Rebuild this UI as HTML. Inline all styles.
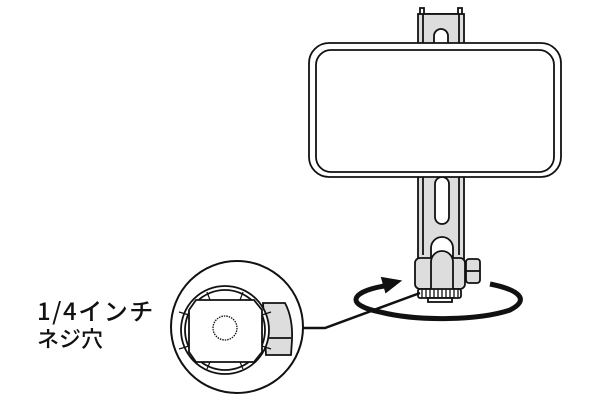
<!DOCTYPE html>
<html><head><meta charset="utf-8"><style>
body{margin:0;background:#fff;width:600px;height:400px;overflow:hidden}
svg{position:absolute;left:0;top:0}
.t{font-family:"Noto Sans CJK JP","Liberation Sans",sans-serif;font-size:22px;font-weight:500;fill:#111}
</style></head><body>
<svg width="600" height="400" viewBox="0 0 600 400">
<g stroke="#111" stroke-width="1.8" fill="none">
<path d="M420 20 V8 h4 v6 h34 v-6 h4 v12" />
<rect x="418" y="14" width="46" height="252" fill="#ddd"/>
<line x1="423" y1="14" x2="423" y2="255"/><line x1="459" y1="14" x2="459" y2="255"/>
<path d="M434 45 V36 a7 7 0 0 1 14 0 V45" fill="#fff"/>
<rect x="435" y="177" width="14" height="47" rx="7" fill="#fff"/>
<path d="M431 262 V248 a11 11 0 0 1 22 0 V262" fill="#fff"/>
<rect x="309" y="43" width="252" height="134" rx="20" fill="#fff"/>
<rect x="316" y="50" width="238" height="122" rx="15"/>
<rect x="466" y="259" width="14" height="24" rx="3" fill="#ddd"/>
<line x1="466" y1="271" x2="480" y2="271"/>
<rect x="415" y="258" width="50" height="31" rx="5" fill="#ddd"/>
<path d="M431 289 V262 a11 11 0 0 1 22 0 V289" fill="#ddd"/>
<rect x="418" y="289" width="43" height="9" rx="2" fill="#fff"/>
<path d="M422 289v9M426 289v9M430 289v9M434 289v9M438 289v9M442 289v9M446 289v9M450 289v9M454 289v9M458 289v9" stroke-width="1.3"/>
<rect x="428" y="298" width="24" height="4" fill="#fff"/>
<path d="M384 286 C350 292 345 305 380 312 C420 322 480 320 510 310 C530 300 520 290 490 284" stroke-width="5"/>
<path d="M400 281 L382 278 L386 292 Z" fill="#111"/>
<polyline points="303,328 325,328 420,293" stroke-width="2.5"/>
<circle cx="237" cy="327" r="66" fill="#fff" stroke-width="2"/>
<path d="M263 303 L285 303 Q293 318 292 340 L291 355 L266 355 Z" fill="#ddd"/>
<line x1="268" y1="338" x2="291" y2="338"/>
<circle cx="225" cy="330" r="44" fill="#fff"/>
<circle cx="225" cy="330" r="40"/>
<path d="M196 300 H254 L262 310 V352 L254 362 H196 L189 352 V310 Z" fill="#fff"/>
<path d="M189 315 l-10 -3 M189 346 l-10 3 M262 315 l9 -3 M262 346 l9 3 M210 300 l-3 -8 M240 300 l3 -8 M210 362 l-3 7 M240 362 l3 7" stroke-width="1.2"/>
<circle cx="225" cy="328" r="12" stroke-dasharray="1.5 1" stroke-width="1.3"/>
</g>
<text class="t" x="37" y="320" style="font-size:24px;letter-spacing:1.5px">1/4インチ</text>
<text class="t" x="37" y="347">ネジ穴</text>
</svg>
</body></html>
